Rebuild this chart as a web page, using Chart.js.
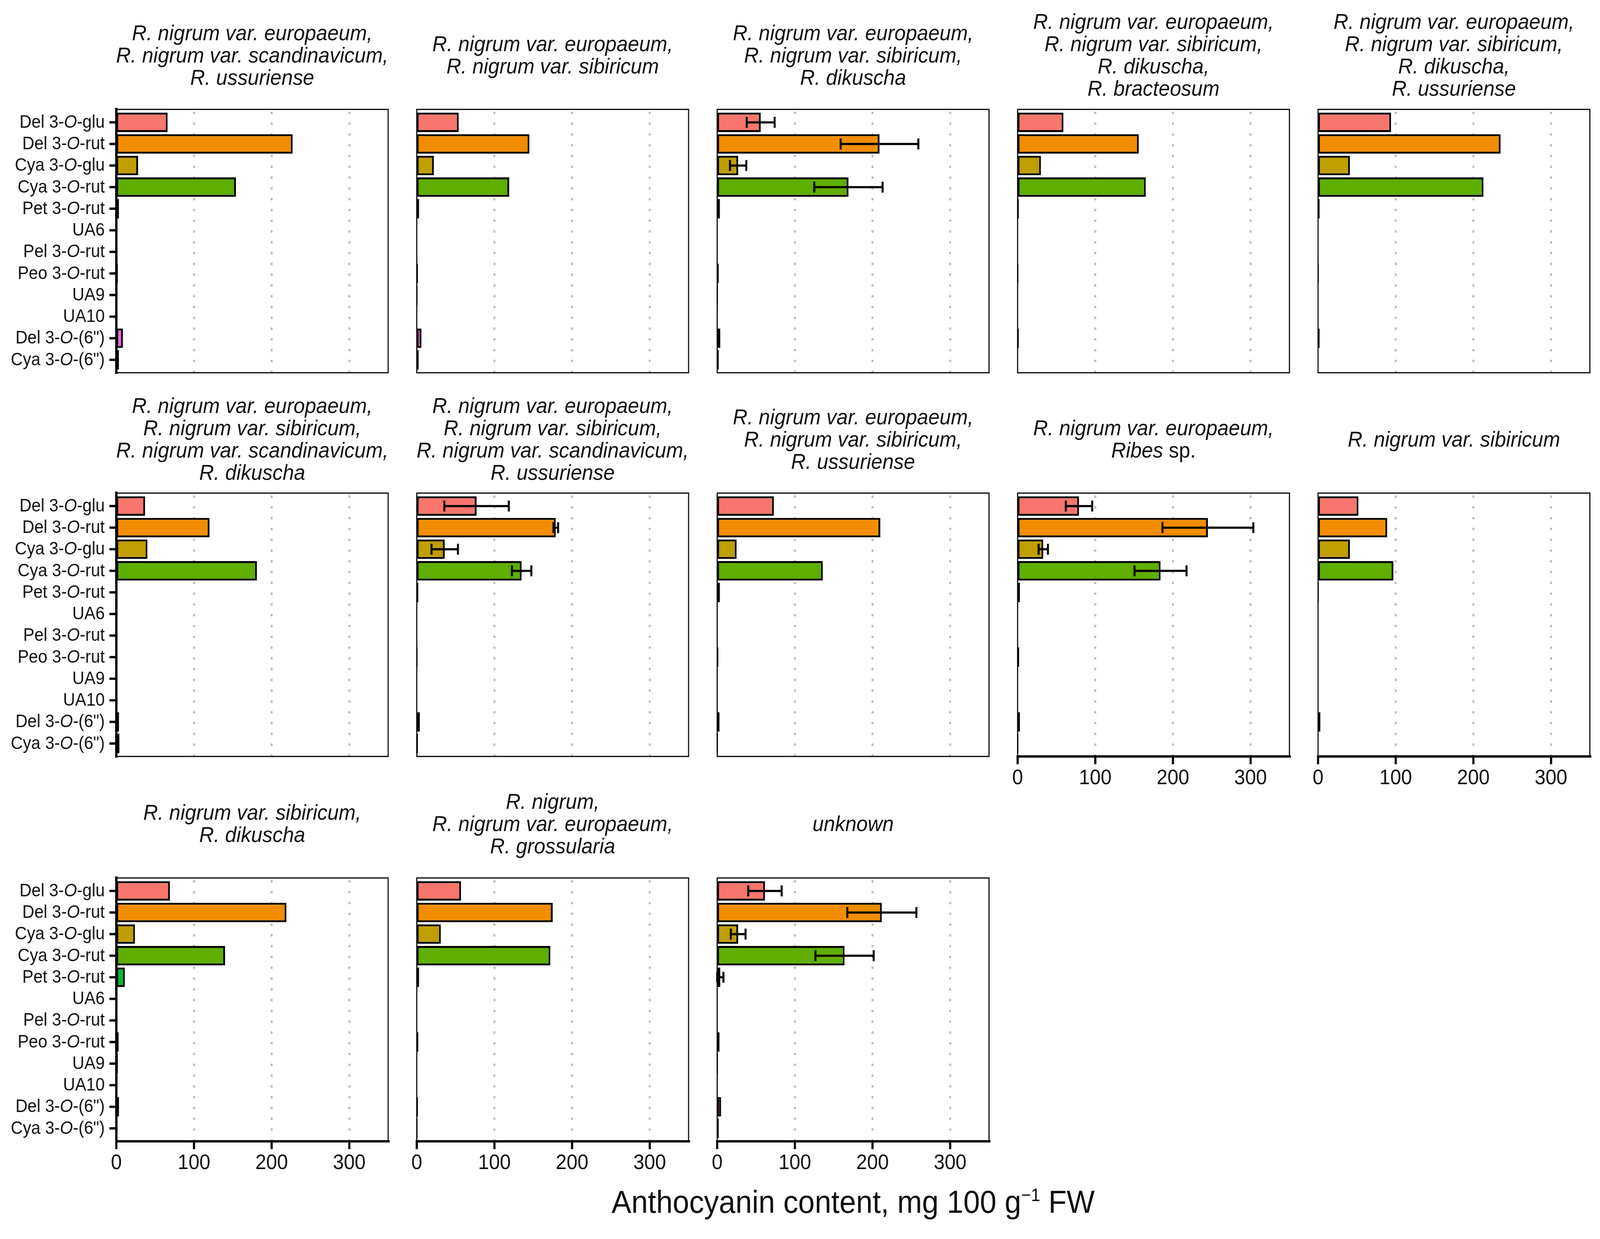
<!DOCTYPE html>
<html>
<head>
<meta charset="utf-8">
<script src="https://cdn.jsdelivr.net/npm/chart.js@4.4.1/dist/chart.umd.min.js"></script>
<style>
  html, body { margin: 0; padding: 0; background: #fff; overflow: hidden; }
  #wrap { position: relative; overflow: hidden; background: #fff; }
  #page { position: absolute; left: 0; top: 0; width: 4415px; height: 3171px; overflow: hidden; transform-origin: 0 0;
          font-family: "Liberation Sans", Arial, sans-serif; color: #111; background: #fff; }
  canvas { position: absolute; }
  .ttl { position: absolute; white-space: nowrap; text-align: center; font-style: italic;
         font-size: 56px; line-height: 57px; transform: translate(-50%, -50%); }
  .ttl .up { font-style: normal; }
  #xtitle { position: absolute; left: 2354px; top: 3076px; transform: translate(-50%, -50%);
            white-space: nowrap; font-size: 82px; line-height: 90px; }
  #xtitle sup { font-size: 46px; line-height: 0; vertical-align: 30px; }
</style>
</head>
<body>
<div id="wrap">
  <div id="page">
    <div id="xtitle">Anthocyanin content, mg 100 g<sup>&minus;1</sup> FW</div>
  </div>
</div>
<script>
var categories = ['Del 3-O-glu', 'Del 3-O-rut', 'Cya 3-O-glu', 'Cya 3-O-rut', 'Pet 3-O-rut', 'UA6',
                  'Pel 3-O-rut', 'Peo 3-O-rut', 'UA9', 'UA10', 'Del 3-O-(6")', 'Cya 3-O-(6")'];
var colors = ['#F8766D', '#F28C00', '#BF9E00', '#5FAE00', '#00BA38', '#00C08B',
              '#00BFC4', '#00B4F0', '#619CFF', '#C77CFF', '#F564E3', '#FF64B0'];
var xTicks = [0, 100, 200, 300];
var xMax = 350;

var titles = [
  ['R. nigrum var. europaeum,', 'R. nigrum var. scandinavicum,', 'R. ussuriense'],
  ['R. nigrum var. europaeum,', 'R. nigrum var. sibiricum'],
  ['R. nigrum var. europaeum,', 'R. nigrum var. sibiricum,', 'R. dikuscha'],
  ['R. nigrum var. europaeum,', 'R. nigrum var. sibiricum,', 'R. dikuscha,', 'R. bracteosum'],
  ['R. nigrum var. europaeum,', 'R. nigrum var. sibiricum,', 'R. dikuscha,', 'R. ussuriense'],
  ['R. nigrum var. europaeum,', 'R. nigrum var. sibiricum,', 'R. nigrum var. scandinavicum,', 'R. dikuscha'],
  ['R. nigrum var. europaeum,', 'R. nigrum var. sibiricum,', 'R. nigrum var. scandinavicum,', 'R. ussuriense'],
  ['R. nigrum var. europaeum,', 'R. nigrum var. sibiricum,', 'R. ussuriense'],
  ['R. nigrum var. europaeum,', 'Ribes sp.'],
  ['R. nigrum var. sibiricum'],
  ['R. nigrum var. sibiricum,', 'R. dikuscha'],
  ['R. nigrum,', 'R. nigrum var. europaeum,', 'R. grossularia'],
  ['unknown']
];

// mean content per panel, same order as categories
var values1  = [66, 227, 28, 154, 3.3, 0.5, 0.5, 2, 1, 0, 8.4, 3.3];
var values2  = [54, 145, 22, 119, 3, 0.3, 0.3, 1.5, 1, 0, 6, 2.5];
var values3  = [56, 209, 27, 169, 3.5, 0.5, 0.5, 2, 1, 0, 4, 2];
var values4  = [59, 156, 30, 165, 1.5, 0.3, 0.3, 1, 0.5, 0, 1.5, 0.5];
var values5  = [94, 235, 41, 213, 2, 0.3, 0.3, 1, 0.5, 0, 2, 0.5];
var values6  = [37, 120, 40, 181, 1.5, 0.5, 1, 1, 0.5, 0, 3.5, 4];
var values7  = [77, 179, 36, 135, 2, 0.3, 0.3, 1, 0.5, 0, 4, 1.5];
var values8  = [73, 210, 25, 136, 3.5, 0.3, 0.3, 1.5, 0.5, 0, 3, 1];
var values9  = [79, 245, 33, 184, 3, 0.3, 0.3, 2, 0.5, 0, 3, 1];
var values10 = [52, 89, 41, 97, 1, 0.3, 0.3, 0.5, 0.3, 0, 3, 0.5];
var values11 = [69, 219, 24, 140, 11, 1, 0.5, 3, 2, 0, 3.5, 1.5];
var values12 = [57, 175, 31, 172, 3, 0.3, 0.3, 2, 0.5, 0, 1.5, 1];
var values13 = [61.5, 212, 27, 164, 4, 0.5, 0.5, 3, 1, 0, 5, 2];

// standard deviations where the panel has error bars
var sd3  = [18, 50, 10.5, 44, 0, 0, 0, 0, 0, 0, 0, 0];
var sd7  = [41.5, 3, 17, 12.5, 0, 0, 0, 0, 0, 0, 0, 0];
var sd9  = [17, 58.5, 6, 33.5, 0, 0, 0, 0, 0, 0, 0, 0];
var sd13 = [21.5, 44.5, 9.5, 37.5, 4, 0, 0, 0, 0, 0, 0, 0];

var panels = [
  { values: values1 }, { values: values2 }, { values: values3, sd: sd3 }, { values: values4 }, { values: values5 },
  { values: values6 }, { values: values7, sd: sd7 }, { values: values8 }, { values: values9, sd: sd9 }, { values: values10 },
  { values: values11 }, { values: values12 }, { values: values13, sd: sd13 }
];

// page geometry
var colLeft = [321, 1150, 1979, 2808, 3637];
var rowTop = [280, 1262, 2247];
var titleMid = [140, 1123, 2107];
var plotW = 750, plotH = 674;
var FONT = '"Liberation Sans", Arial, sans-serif';

var page = document.getElementById('page');
var wrap = document.getElementById('wrap');
// the browser viewport may be narrower than 4415px, so stretch the page onto it
var sx = window.innerWidth / 4415, sy = window.innerHeight / 3171;
page.style.transform = 'scale(' + sx + ',' + sy + ')';
wrap.style.width = (4415 * sx) + 'px';
wrap.style.height = (3171 * sy) + 'px';

function makeDeco(p, first, bottom) {
  function line(ctx, x1, y1, x2, y2) {
    ctx.beginPath(); ctx.moveTo(x1, y1); ctx.lineTo(x2, y2); ctx.stroke();
  }
  return {
    id: 'panelDeco',
    beforeDatasetsDraw: function (chart) {
      var ctx = chart.ctx, a = chart.chartArea, xs = chart.scales.x;
      ctx.save();
      ctx.strokeStyle = '#bdbdbd';
      ctx.lineWidth = 5.5;
      ctx.setLineDash([6, 21.6]);
      xTicks.forEach(function (v) {
        if (v === 0) return;
        var px = xs.getPixelForValue(v);
        line(ctx, px, a.top + 6, px, a.bottom);
      });
      ctx.restore();
    },
    afterDatasetsDraw: function (chart) {
      var ctx = chart.ctx, a = chart.chartArea, xs = chart.scales.x, ys = chart.scales.y;
      var meta = chart.getDatasetMeta(0);
      ctx.save();
      ctx.strokeStyle = '#000';
      ctx.lineCap = 'butt';

      // error bars (mean +/- sd)
      if (p.sd) {
        ctx.lineWidth = 5.5;
        p.sd.forEach(function (s, i) {
          if (!s) return;
          var y = meta.data[i].y;
          var lo = xs.getPixelForValue(Math.max(0, p.values[i] - s));
          var hi = xs.getPixelForValue(p.values[i] + s);
          line(ctx, lo, y, hi, y);
          line(ctx, lo, y - 14, lo, y + 14);
          line(ctx, hi, y - 14, hi, y + 14);
        });
      }

      // panel border
      ctx.lineWidth = 3;
      ctx.strokeRect(a.left, a.top, a.right - a.left, a.bottom - a.top);

      // left axis, ticks and category labels (italic O)
      if (first) {
        ctx.lineWidth = 6.5;
        line(ctx, a.left, a.top - 4, a.left, a.bottom + 3);
        ctx.lineWidth = 6;
        ctx.fillStyle = '#111';
        ctx.textBaseline = 'middle';
        categories.forEach(function (c, i) {
          var y = ys.getPixelForValue(i);
          line(ctx, a.left - 19, y, a.left, y);
          var k = c.indexOf('3-O');
          var parts = k < 0 ? [[c, 'normal']] :
            [[c.slice(0, k + 2), 'normal'], ['O', 'italic'], [c.slice(k + 3), 'normal']];
          var total = 0;
          parts.forEach(function (pt) {
            ctx.font = pt[1] + ' 46px ' + FONT;
            pt.push(ctx.measureText(pt[0]).width);
            total += pt[2];
          });
          var x = a.left - 32 - total;
          ctx.textAlign = 'left';
          parts.forEach(function (pt) {
            ctx.font = pt[1] + ' 46px ' + FONT;
            ctx.fillText(pt[0], x, y + 1);
            x += pt[2];
          });
        });
      }

      // bottom axis with ticks
      if (bottom) {
        ctx.lineWidth = 6;
        line(ctx, a.left - 3, a.bottom, a.right + 4, a.bottom);
        xTicks.forEach(function (v) {
          var px = xs.getPixelForValue(v);
          line(ctx, px, a.bottom, px, a.bottom + 20);
        });
      }
      ctx.restore();
    }
  };
}

panels.forEach(function (p, idx) {
  var col = idx % 5, row = Math.floor(idx / 5);
  var first = col === 0;
  var bottom = row === 2 || (row === 1 && col >= 3);
  var L = first ? 321 : 40, T = 40, R = 14, B = bottom ? 110 : 14;

  var canvas = document.createElement('canvas');
  canvas.width = L + plotW + R;
  canvas.height = T + plotH + B;
  canvas.style.left = (colLeft[col] - L) + 'px';
  canvas.style.top = (rowTop[row] - T) + 'px';
  page.appendChild(canvas);

  var ttl = document.createElement('div');
  ttl.className = 'ttl';
  ttl.style.left = (colLeft[col] + plotW / 2) + 'px';
  ttl.style.top = titleMid[row] + 'px';
  ttl.innerHTML = titles[idx].map(function (t) {
    return t.replace(/ sp\.$/, '<span class="up"> sp.</span>');
  }).join('<br>');
  page.appendChild(ttl);

  new Chart(canvas, {
    type: 'bar',
    data: {
      datasets: [{
        data: p.values.map(function (v, i) { return { x: v, y: i }; }),
        backgroundColor: colors,
        borderColor: '#000',
        borderWidth: 5,
        borderSkipped: false,
        categoryPercentage: 0.9,
        barPercentage: 1
      }]
    },
    options: {
      indexAxis: 'y',
      responsive: false,
      animation: false,
      devicePixelRatio: 1,
      layout: { padding: { top: T, right: R, left: 0, bottom: 0 } },
      plugins: { legend: { display: false }, tooltip: { enabled: false } },
      scales: {
        x: {
          type: 'linear', min: 0, max: xMax, offset: false,
          afterBuildTicks: function (s) { s.ticks = xTicks.map(function (v) { return { value: v }; }); },
          afterFit: function (s) { s.height = B; },
          grid: { display: false, drawTicks: false },
          border: { display: false },
          ticks: { display: bottom, padding: 24, color: '#111', font: { family: FONT, size: 54 } }
        },
        y: {
          type: 'linear', min: -0.6, max: 11.6, reverse: true, offset: false,
          afterBuildTicks: function (s) { s.ticks = categories.map(function (c, i) { return { value: i }; }); },
          afterFit: function (s) { s.width = L; },
          grid: { display: false, drawTicks: false, offset: false },
          border: { display: false },
          ticks: { display: false }
        }
      }
    },
    plugins: [makeDeco(p, first, bottom)]
  });
});
</script>
</body>
</html>
